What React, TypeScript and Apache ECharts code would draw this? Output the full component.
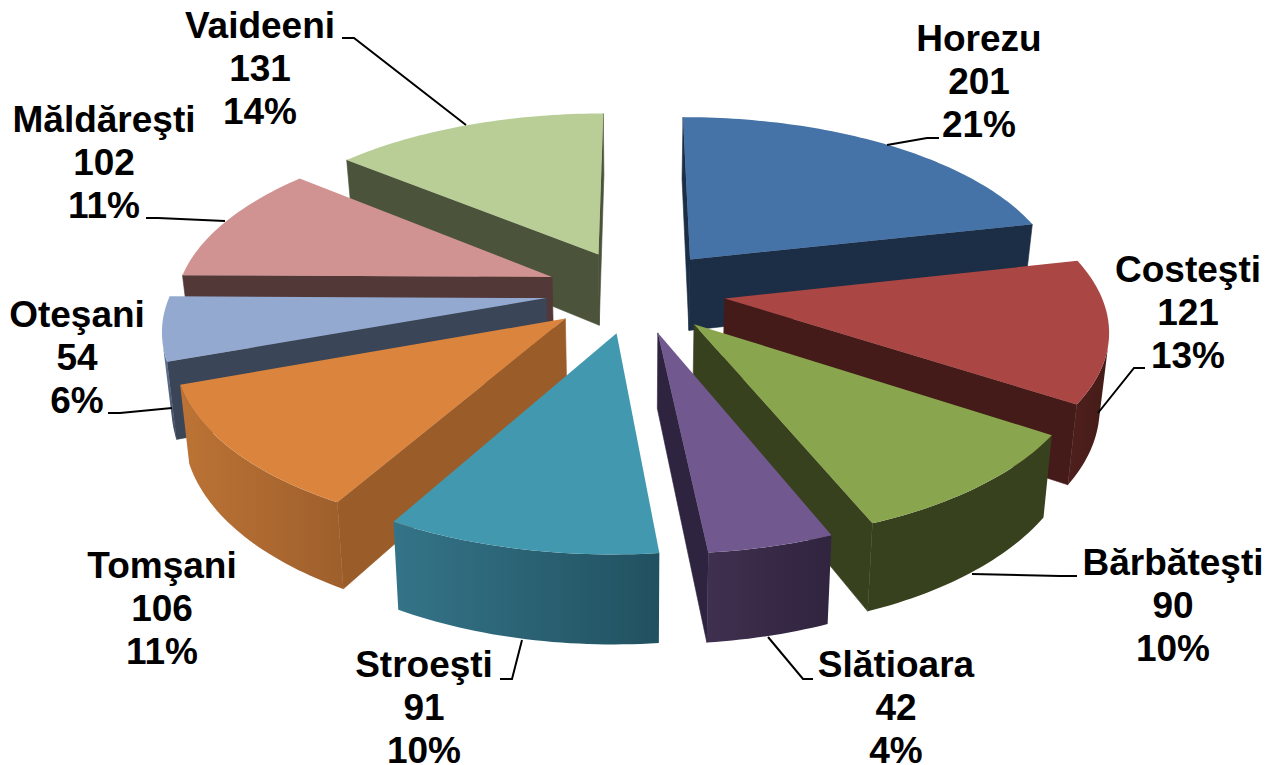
import React, { useEffect, useRef } from "react";
import * as echarts from "echarts";

const categories = ["Horezu", "Costeşti", "Bărbăteşti", "Slătioara", "Stroeşti", "Tomşani", "Oteşani", "Măldăreşti", "Vaideeni"];
const values = [201, 121, 90, 42, 91, 106, 54, 102, 131];
const percents = ["21%", "13%", "10%", "4%", "10%", "11%", "6%", "11%", "14%"];

const topColors = ["#4572A7", "#AA4643", "#89A54E", "#71588F", "#4198AF", "#DB843D", "#93A9CF", "#D19392", "#B9CD96"];
const cutColors = ["#1B2E45", "#441B18", "#37411E", "#2E2440", "#245562", "#9A5D2A", "#3A4558", "#533838", "#4B533A"];
const wallLeft = ["#1B2E45", "#4F201D", "#37411E", "#40304F", "#347488", "#BC7335", "#6C80A5", "#533838", "#7F9160"];
const wallRight = ["#1B2E45", "#441B18", "#37411E", "#30243F", "#215160", "#9E5F2C", "#3A4558", "#533838", "#7F9160"];

// label centres and leader lines (annotation layout)
const labelCentres = [[979, 81], [1188, 312], [1173, 605], [896, 707], [424, 707], [162, 608], [77, 357], [104, 162], [260, 68]];
const LINE_GAP = 43;
const leaders = [
  [[887, 145], [927, 138], [939, 138]],
  [[1098, 413], [1134, 368], [1145, 368]],
  [[972, 574], [1060, 576], [1077, 576]],
  [[768, 637], [803, 679], [813, 679]],
  [[522, 640], [512, 679], [500, 679]],
  [],
  [[172, 408], [120, 413], [108, 413]],
  [[225, 221], [158, 218], [146, 218]],
  [[466, 125], [354, 38], [342, 38]],
];

// projection of the tilted disc
const CX = 635.5, CY = 291, A = 375, B = 173, K = 0.153, H = 73, EXPLODE = 0.24, CONVERGE = 0.02;
const total = values.reduce((s, v) => s + v, 0);

function project(x: number, y: number, drop: number) {
  const s = 1 / (1 + K * y);
  return [CX + A * x * s * (1 - CONVERGE * drop), CY - B * y * s + H * drop * s];
}

function signedArea(p: number[][]) {
  let a = 0;
  for (let i = 0; i < p.length; i++) {
    const q = p[(i + 1) % p.length];
    a += p[i][0] * q[1] - q[0] * p[i][1];
  }
  return a / 2;
}

const spans = values.map((v, i) => {
  const before = values.slice(0, i).reduce((s, x) => s + x, 0);
  return [(before / total) * Math.PI * 2, ((before + v) / total) * Math.PI * 2];
});
const paintOrder = spans
  .map((s, i) => ({ i, c: Math.cos((s[0] + s[1]) / 2) }))
  .sort((a, b) => b.c - a.c)
  .map((o) => o.i);

function renderSlice(params: any) {
  const i = params.dataIndex;
  const [a0, a1] = spans[i];
  const mid = (a0 + a1) / 2;
  const ox = EXPLODE * Math.sin(mid);
  const oy = EXPLODE * Math.cos(mid);
  const z2Base = paintOrder.indexOf(i) * 10;
  const steps = Math.max(8, Math.ceil((a1 - a0) / 0.02));
  const angles: number[] = [];
  for (let s = 0; s <= steps; s++) angles.push(a0 + ((a1 - a0) * s) / steps);
  const rim = (a: number, d: number) => project(ox + Math.sin(a), oy + Math.cos(a), d);
  const apexT = project(ox, oy, 0);
  const apexB = project(ox, oy, 1);
  const children: any[] = [];

  const cut = (a: number, sign: number) => {
    const q = [apexT, rim(a, 0), rim(a, 1), apexB];
    if (signedArea(q) * sign > 0) {
      children.push({
        type: "polygon",
        z2: z2Base + 1,
        shape: { points: q },
        style: { fill: cutColors[i], stroke: cutColors[i], lineWidth: 0.6 },
      });
    }
  };
  cut(a1, 1);
  cut(a0, -1);

  let run: number[] = [];
  const flush = () => {
    if (run.length > 1) {
      const tops = run.map((a) => rim(a, 0));
      const bots = run.map((a) => rim(a, 1)).reverse();
      children.push({
        type: "polygon",
        z2: z2Base + 2,
        shape: { points: tops.concat(bots) },
        style: {
          fill: new echarts.graphic.LinearGradient(0, 0, 1, 0, [
            { offset: 0, color: wallLeft[i] },
            { offset: 1, color: wallRight[i] },
          ]),
        },
      });
    }
    run = [];
  };
  for (let s = 0; s < steps; s++) {
    const q = [rim(angles[s], 0), rim(angles[s + 1], 0), rim(angles[s + 1], 1), rim(angles[s], 1)];
    if (signedArea(q) < 0) {
      if (!run.length) run.push(angles[s]);
      run.push(angles[s + 1]);
    } else {
      flush();
    }
  }
  flush();

  children.push({
    type: "polygon",
    z2: z2Base + 3,
    shape: { points: [apexT].concat(angles.map((a) => rim(a, 0))) },
    style: { fill: topColors[i] },
  });
  return { type: "group", children };
}

export default function App() {
  const ref = useRef<HTMLDivElement>(null);
  useEffect(() => {
    const chart = echarts.init(ref.current!, undefined, { renderer: "svg" });
    const labelEls: any[] = [];
    categories.forEach((name, i) => {
      [name, String(values[i]), percents[i]].forEach((line, k) => {
        labelEls.push({
          type: "text",
          x: labelCentres[i][0],
          y: labelCentres[i][1] + (k - 1) * LINE_GAP,
          z: 100,
          style: {
            text: line,
            font: 'bold 37px "Liberation Sans", Arial, sans-serif',
            lineHeight: 28,
            fill: "#000000",
            textAlign: "center",
            textVerticalAlign: "middle",
          },
        });
      });
    });
    const leaderEls = leaders
      .filter((l) => l.length)
      .map((l) => ({
        type: "polyline",
        z: 100,
        shape: { points: l },
        style: { stroke: "#000000", lineWidth: 2, fill: "none" },
      }));
    chart.setOption({
      animation: false,
      backgroundColor: "#ffffff",
      graphic: { elements: [...leaderEls, ...labelEls] },
      series: [
        {
          type: "custom",
          coordinateSystem: "none",
          silent: true,
          data: values.map((v, i) => ({ name: categories[i], value: [v] })),
          renderItem: renderSlice,
        },
      ],
    });
    return () => chart.dispose();
  }, []);
  return <div ref={ref} style={{ position: "absolute", left: 0, top: 0, width: 1268, height: 765 }} />;
}
